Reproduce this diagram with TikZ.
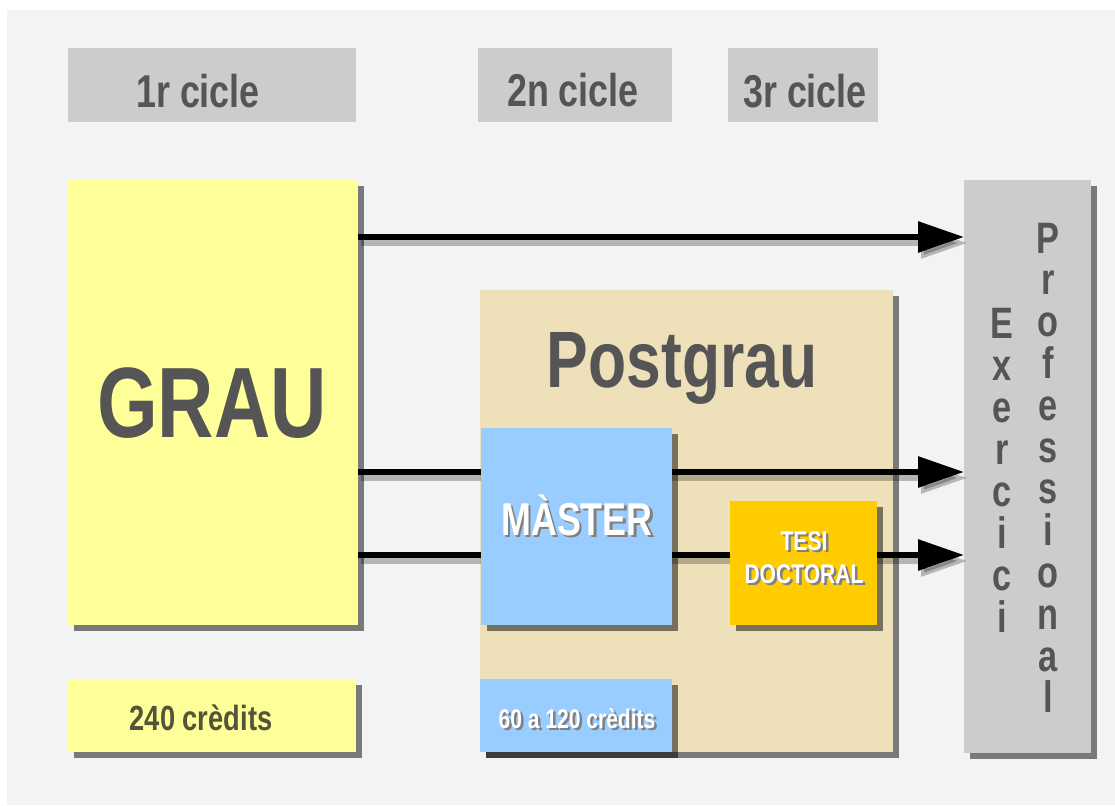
\documentclass[tikz,border=0pt]{standalone}
\usepackage{fontspec}
\newfontfamily\nar[FakeStretch=0.78]{Liberation Sans}
\usetikzlibrary{arrows.meta,shadows}
\definecolor{bgc}{HTML}{F2F3F5}
\definecolor{hdr}{HTML}{CCCCCC}
\definecolor{yel}{HTML}{FFFF99}
\definecolor{tan}{HTML}{EEE1BA}
\definecolor{blu}{HTML}{99CCFF}
\definecolor{gold}{HTML}{FFCC00}
\definecolor{txt}{HTML}{555555}
\definecolor{olive}{HTML}{545438}
\newcommand\shtext[1]{\makebox[0pt][l]{\kern2.5pt\raisebox{-2.5pt}{\textcolor{black!50}{#1}}}#1}
\begin{document}
\begin{tikzpicture}[x=1pt,y=-1pt,
  box/.style={draw=none, inner sep=0pt, outer sep=0pt, anchor=north west},
  shad/.style={drop shadow={shadow xshift=6pt, shadow yshift=-6pt, fill=black, opacity=.5}},
  lbl/.style={inner sep=0pt, anchor=base, font=\nar\bfseries},
  arr/.style={line width=6pt, draw=black, -{Triangle[length=46pt,width=30pt]}},
  arrsh/.style={arr, draw=black, fill=black, opacity=.25, transform canvas={shift={(3pt,-6pt)}}},
  letter/.style={inner sep=0pt, anchor=base, text=txt, font=\nar\bfseries\fontsize{44}{44}\selectfont}
]
\useasboundingbox (0,0) rectangle (1115,805);
\fill[white] (0,0) rectangle (1115,805);
\fill[bgc] (7,10) rectangle (1115,805);

% headers
\node[box, fill=hdr, minimum width=288pt, minimum height=74pt] (h1) at (68,48) {};
\node[box, fill=hdr, minimum width=194pt, minimum height=74pt] (h2) at (478,48) {};
\node[box, fill=hdr, minimum width=150pt, minimum height=74pt] (h3) at (728,48) {};
\node[lbl, text=txt, font=\nar\bfseries\fontsize{46}{46}\selectfont] (t1) at (198,108) {1r cicle};
\node[lbl, text=txt, font=\nar\bfseries\fontsize{46}{46}\selectfont] (t2) at (573,107) {2n cicle};
\node[lbl, text=txt, font=\nar\bfseries\fontsize{46}{46}\selectfont] (t3) at (805,108) {3r cicle};

% grau
\node[box, shad, fill=yel, minimum width=290pt, minimum height=445pt] (grau) at (68,180) {};
\node[lbl, text=txt, font=\nar\bfseries\fontsize{100}{100}\selectfont] (tgrau) at (212,437) {GRAU};

% postgrau
\node[box, shad, fill=tan, minimum width=413pt, minimum height=462pt] (post) at (480,290) {};
\node[lbl, text=txt, font=\nar\bfseries\fontsize{80}{80}\selectfont] (tpost) at (682,387) {Postgrau};

% exercici professional
\node[box, shad, fill=hdr, minimum width=127pt, minimum height=573pt] (ex) at (964,180) {};

% arrows
\coordinate (a1) at (0,237);
\coordinate (a2) at (0,472);
\coordinate (a3) at (0,555);
\draw[arrsh] (grau.east |- a1) -- (ex.west |- a1);
\draw[arrsh] (grau.east |- a2) -- (ex.west |- a2);
\draw[arrsh] (grau.east |- a3) -- (ex.west |- a3);
\draw[arr] (grau.east |- a1) -- (ex.west |- a1);
\draw[arr] (grau.east |- a2) -- (ex.west |- a2);
\draw[arr] (grau.east |- a3) -- (ex.west |- a3);

% master, tesi
\node[box, shad, fill=blu, minimum width=191pt, minimum height=197pt] (master) at (481,428) {};
\node[lbl, text=white, font=\nar\bfseries\fontsize{46}{46}\selectfont] (tmaster) at (577,535) {\shtext{MÀSTER}};
\node[box, shad, fill=gold, minimum width=147pt, minimum height=124pt] (tesi) at (730,501) {};
\node[lbl, text=white, font=\nar\bfseries\fontsize{27}{27}\selectfont] (ttesi1) at (804,550) {\shtext{TESI}};
\node[lbl, text=white, font=\nar\bfseries\fontsize{27}{27}\selectfont] (ttesi2) at (804,583) {\shtext{DOCTORAL}};

% credits
\node[box, shad, fill=yel, minimum width=288pt, minimum height=73pt] (c240) at (68,679) {};
\node[lbl, text=olive, font=\nar\bfseries\fontsize{35}{35}\selectfont] (t240) at (201,730) {240 crèdits};
\node[box, shad, fill=blu, minimum width=192pt, minimum height=73pt] (c60) at (480,679) {};
\node[lbl, text=white, font=\nar\bfseries\fontsize{27}{27}\selectfont] (t60) at (577,728) {\shtext{60 a 120 crèdits}};

% vertical letters
\foreach \l [count=\i from 0] in {E,x,e,r,c,i,c,i}
  \node[letter] (exl\i) at (1002,338+42*\i) {\l};
\foreach \l [count=\i from 0] in {P,r,o,f,e,s,s,i,o,n,a,l}
  \node[letter] (prl\i) at (1048,253+41.8*\i) {\l};
\end{tikzpicture}
\end{document}
